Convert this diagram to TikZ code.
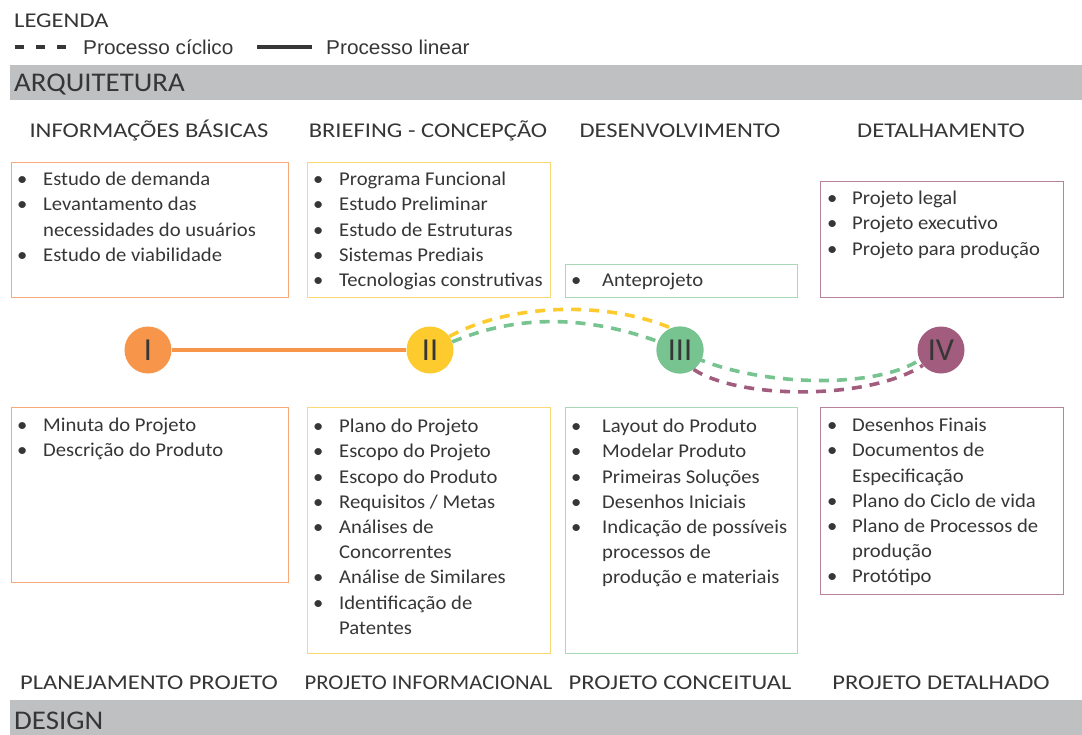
\documentclass[tikz,border=0pt]{standalone}
\usepackage{fontspec}
\setmainfont{Carlito}
\newfontfamily\legfont[FakeStretch=1.04]{Liberation Sans}
\newfontfamily\headfont[FakeStretch=1.17]{Carlito}
\newfontfamily\narrowfont[FakeStretch=1.08]{Carlito}
\newfontfamily\barfont[FakeStretch=1.07]{Carlito}
\newfontfamily\listfont[FakeStretch=1.06]{Carlito}
\usetikzlibrary{calc}
\definecolor{txt}{HTML}{363636}
\definecolor{bargray}{HTML}{BFC0C2}
\definecolor{faseI}{HTML}{F7964A}
\definecolor{faseII}{HTML}{FECB2F}
\definecolor{faseIII}{HTML}{77C490}
\definecolor{faseIV}{HTML}{A15C7E}
\definecolor{boxI}{HTML}{F5AA78}
\definecolor{boxII}{HTML}{F9D977}
\definecolor{boxIII}{HTML}{A8D8B5}
\definecolor{boxIV}{HTML}{B7839B}
\newcommand{\bul}[2][26]{\makebox[#1pt][l]{\textbullet}#2}
\newcommand{\cont}[2][26]{\hspace*{#1pt}#2}
\begin{document}
\begin{tikzpicture}[x=1pt,y=-1pt,line cap=butt,
  bar/.style={fill=bargray,draw=none,minimum width=1072,minimum height=35,inner sep=0,anchor=north west},
  bartxt/.style={anchor=base west,inner sep=0,text=txt,font=\barfont\fontsize{27}{30}\selectfont},
  topic/.style={anchor=base,inner sep=0,text=txt,font=\headfont\fontsize{21}{25}\selectfont},
  box/.style={draw=#1,line width=1.2pt,anchor=north west,inner sep=0},
  listtxt/.style={anchor=north west,inner sep=0,align=left,text=txt,font=\listfont\fontsize{19.5}{25.2}\selectfont},
  phase/.style={circle,fill=#1,minimum size=47,inner sep=0,text=txt,font=\fontsize{32}{34}\selectfont},
  cyc/.style={draw=#1,line width=3.6pt,dash pattern=on 10pt off 8pt}]
  \useasboundingbox (0,0) rectangle (1082,734);

  % legenda
  \node[anchor=base west,inner sep=0,text=txt,font=\headfont\fontsize{21}{24}\selectfont] (leg) at (14,27) {LEGENDA};
  \coordinate (cycA) at (15,47);
  \coordinate (cycB) at (68,47);
  \coordinate (linA) at (257,47);
  \coordinate (linB) at (312,47);
  \draw[txt,line width=3.6pt,dash pattern=on 9pt off 12pt] (cycA) -- (cycB);
  \draw[txt,line width=3.4pt] (linA) -- (linB);
  \node[anchor=base west,inner sep=0,text=txt,font=\legfont\fontsize{20}{22}\selectfont] (legcyc) at (83,54) {Processo cíclico};
  \node[anchor=base west,inner sep=0,text=txt,font=\legfont\fontsize{20}{22}\selectfont] (leglin) at (326,54) {Processo linear};

  % faixas
  \node[bar] (arqbar) at (10,65) {};
  \node[bartxt] (arq) at (14,91) {ARQUITETURA};
  \node[bar] (desbar) at (10,700) {};
  \node[bartxt] (des) at (14,729) {DESIGN};

  % etapas arquitetura
  \node[topic] (infb) at (149,137) {INFORMAÇÕES BÁSICAS};
  \node[topic] (brief) at (428,137) {BRIEFING - CONCEPÇÃO};
  \node[topic] (desv) at (680,137) {DESENVOLVIMENTO};
  \node[topic] (detl) at (941,137) {DETALHAMENTO};

  % etapas design
  \node[topic] (plan) at (149,689) {PLANEJAMENTO PROJETO};
  \node[topic,font=\narrowfont\fontsize{21}{25}\selectfont] (pinf) at (428.5,689) {PROJETO INFORMACIONAL};
  \node[topic] (pcon) at (680,689) {PROJETO CONCEITUAL};
  \node[topic] (pdet) at (941,689) {PROJETO DETALHADO};

  % caixas superiores
  \node[box=boxI,minimum width=277,minimum height=135] (arqI) at (11,162) {};
  \node[box=boxII,minimum width=243,minimum height=135] (arqII) at (307,162) {};
  \node[box=boxIII,minimum width=232,minimum height=33] (arqIII) at (565,264) {};
  \node[box=boxIV,minimum width=243,minimum height=116] (arqIV) at (820,181) {};
  \node[listtxt] (lstaI) at ($(arqI.north west)+(6,10)$) {\bul{Estudo de demanda}\\ \bul{Levantamento das}\\ \cont{necessidades do usuários}\\ \bul{Estudo de viabilidade}};
  \node[listtxt] (lstaII) at ($(arqII.north west)+(6,10)$) {\bul{Programa Funcional}\\ \bul{Estudo Preliminar}\\ \bul{Estudo de Estruturas}\\ \bul{Sistemas Prediais}\\ \bul{Tecnologias construtivas}};
  \node[listtxt] (lstaIII) at ($(arqIII.north west)+(6,9)$) {\bul[31]{Anteprojeto}};
  \node[listtxt] (lstaIV) at ($(arqIV.north west)+(7,10)$) {\bul[25]{Projeto legal}\\ \bul[25]{Projeto executivo}\\ \bul[25]{Projeto para produção}};

  % caixas inferiores
  \node[box=boxI,minimum width=277,minimum height=175] (desI) at (11,407) {};
  \node[box=boxII,minimum width=243,minimum height=246] (desII) at (307,407) {};
  \node[box=boxIII,minimum width=232,minimum height=246] (desIII) at (565,407) {};
  \node[box=boxIV,minimum width=243,minimum height=187] (desIV) at (820,407) {};
  \node[listtxt] (lstdI) at ($(desI.north west)+(6,11)$) {\bul{Minuta do Projeto}\\ \bul{Descrição do Produto}};
  \node[listtxt] (lstdII) at ($(desII.north west)+(6,12)$) {\bul{Plano do Projeto}\\ \bul{Escopo do Projeto}\\ \bul{Escopo do Produto}\\ \bul{Requisitos / Metas}\\ \bul{Análises de}\\ \cont{Concorrentes}\\ \bul{Análise de Similares}\\ \bul{Identificação de}\\ \cont{Patentes}};
  \node[listtxt] (lstdIII) at ($(desIII.north west)+(6,12)$) {\bul[31]{Layout do Produto}\\ \bul[31]{Modelar Produto}\\ \bul[31]{Primeiras Soluções}\\ \bul[31]{Desenhos Iniciais}\\ \bul[31]{Indicação de possíveis}\\ \cont[31]{processos de}\\ \cont[31]{produção e materiais}};
  \node[listtxt] (lstdIV) at ($(desIV.north west)+(7,11)$) {\bul[25]{Desenhos Finais}\\ \bul[25]{Documentos de}\\ \cont[25]{Especificação}\\ \bul[25]{Plano do Ciclo de vida}\\ \bul[25]{Plano de Processos de}\\ \cont[25]{produção}\\ \bul[25]{Protótipo}};

  % fases
  \node[phase=faseI] (I) at (148,350) {I};
  \node[phase=faseII] (II) at (430,350) {II};
  \node[phase=faseIII] (III) at (680,350) {III};
  \node[phase=faseIV] (IV) at (941,350) {IV};

  % processos
  \draw[faseI,line width=4.6pt] (I) -- (II);
  \draw[cyc=faseII] (II.35) .. controls (520,298) and (640,300) .. (III.10);
  \draw[cyc=faseIII] (II.20) .. controls (540,305) and (620,325) .. (III.center) .. controls (740,385) and (870,392) .. (IV.205);
  \draw[cyc=faseIV] (III.-55) .. controls (740,400) and (870,400) .. (IV.220);
  \node[phase=faseIII] (IIIb) at (III) {III};
\end{tikzpicture}
\end{document}
